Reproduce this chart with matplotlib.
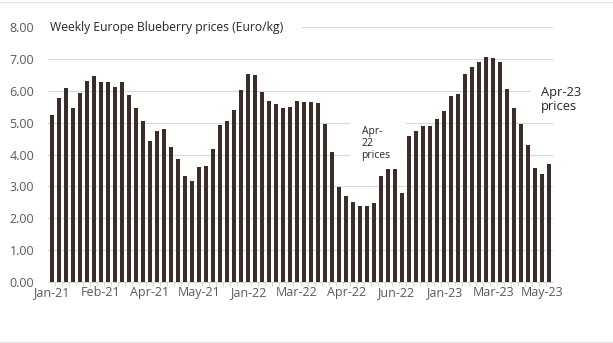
import matplotlib
matplotlib.use('Agg')
import matplotlib.pyplot as plt
from matplotlib.lines import Line2D
from matplotlib.patches import Rectangle
import numpy as np

plt.rcParams['font.family'] = ['Open Sans', 'DejaVu Sans']

# weekly blueberry prices, Euro/kg
prices = [5.25, 5.78, 6.08, 5.47, 5.93, 6.30, 6.46, 6.27, 6.27, 6.12,
          6.27, 5.88, 5.46, 5.04, 4.43, 4.73, 4.80, 4.23, 3.85, 3.34,
          3.16, 3.61, 3.65, 4.16, 4.91, 5.04, 5.41, 6.03, 6.53, 6.50,
          5.96, 5.67, 5.57, 5.45, 5.49, 5.67, 5.64, 5.64, 5.61, 4.96,
          4.07, 2.98, 2.71, 2.51, 2.40, 2.40, 2.47, 3.34, 3.55, 3.55,
          2.78, 4.58, 4.73, 4.88, 4.88, 5.11, 5.38, 5.83, 5.91, 6.52,
          6.75, 6.91, 7.06, 7.02, 6.91, 6.07, 5.45, 4.96, 4.30, 3.58,
          3.39, 3.70]
tick_labels = ['Jan-21', 'Feb-21', 'Apr-21', 'May-21', 'Jan-22', 'Mar-22',
               'Apr-22', 'Jun-22', 'Jan-23', 'Mar-23', 'May-23']
tick_step = 7
yticks = [0, 1, 2, 3, 4, 5, 6, 7, 8]

bar_col = '#3b2e2a'
grid_col = '#d9d9d9'
txt_col = '#595959'

W, H = 613, 343
fig = plt.figure(figsize=(W / 100, H / 100), dpi=100)
ax = fig.add_axes([48 / W, 1 - 282 / H, (553 - 48) / W, (282 - 27) / H])

x = np.arange(len(prices))
ax.bar(x, prices, width=0.57, color=bar_col, zorder=3)

ax.set_xlim(-0.5, len(prices) - 0.5)
ax.set_ylim(0, 8)
ax.set_yticks(yticks)
ax.set_yticklabels(['%.2f' % v for v in yticks], fontsize=9, color=txt_col)
ax.set_xticks(x[::tick_step])
ax.set_xticklabels(tick_labels, fontsize=9, color=txt_col)
ax.set_xticks(x[:-1] + 0.5, minor=True)
ax.tick_params(axis='x', which='major', length=0, pad=3)
ax.tick_params(axis='x', which='minor', length=3, color=grid_col, width=0.8)
ax.tick_params(axis='y', length=0, pad=10)

for s in ['top', 'right', 'left']:
    ax.spines[s].set_visible(False)
ax.spines['bottom'].set_color(grid_col)
ax.spines['bottom'].set_linewidth(0.8)
ax.yaxis.grid(True, color=grid_col, linewidth=0.8, zorder=0)
ax.set_axisbelow(True)

# title sits on the top gridline with a white backing
ax.add_patch(Rectangle((-0.5, 7.7), 36.2, 0.6, facecolor='white',
                       edgecolor='none', zorder=1, clip_on=False))
ax.text(-0.2, 8.0, 'Weekly Europe Blueberry prices (Euro/kg)', fontsize=8.7,
        color='#262626', va='center', ha='left', zorder=2)

# note boxes
ax.add_patch(Rectangle((42.6, 3.62), 7.9, 1.6, facecolor='white',
                       edgecolor='none', zorder=1))
ax.text(44.2, 4.35, 'Apr-\n22\nprices', fontsize=7.5, color='#262626',
        va='center', ha='left', linespacing=1.1, zorder=2)

ax.add_patch(Rectangle((68.3, 5.25), 10, 1.0, facecolor='white',
                       edgecolor='none', zorder=1, clip_on=False))
ax.text(69.8, 5.72, 'Apr-23\nprices', fontsize=9.3, color='#262626',
        va='center', ha='left', linespacing=1.05, zorder=2, clip_on=False)

# thin frame lines top and bottom
fig.add_artist(Line2D([0, 1], [1 - 1.5 / H, 1 - 1.5 / H], color='#e3e3e3', lw=1))
fig.add_artist(Line2D([0, 1], [1.5 / H, 1.5 / H], color='#e3e3e3', lw=1))

fig.savefig('out.png', dpi=100, facecolor='white')
